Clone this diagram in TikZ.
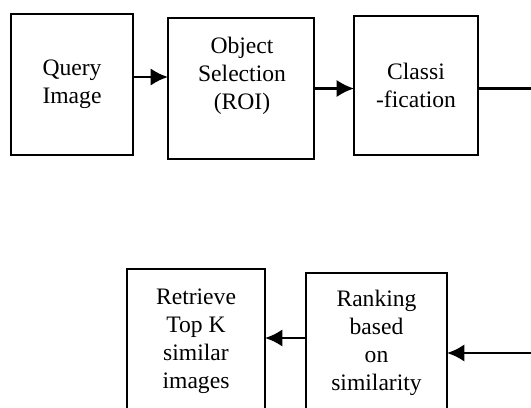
\documentclass[tikz,border=0pt]{standalone}
\usepackage{fontspec}
\setmainfont{Liberation Serif}
\usetikzlibrary{arrows.meta}

\tikzset{
  blk/.style={draw, line width=1.5pt, inner sep=0pt, outer sep=0pt, align=center,
    font=\fontsize{17.7}{21}\selectfont},
  blktxt/.style={inner sep=0pt, align=center, font=\fontsize{17.7}{21}\selectfont},
  arr/.style={line width=2pt, -{Latex[length=13pt,width=13pt]}},
  wire/.style={line width=2pt}
}

\begin{document}
\begin{tikzpicture}[x=0.75pt,y=0.75pt,yscale=-1,xscale=1]
  \useasboundingbox (0,0) rectangle (531,407);
  \clip (0,0) rectangle (531,407);

  %Shape: Rectangle [query]
  \node [blk, minimum width=91.5pt, minimum height=105.75pt] (query) at (72,84.5) {Query\\Image};
  %Shape: Rectangle [roi]
  \node [blk, minimum width=109.5pt, minimum height=105.75pt] (roi) at (241,88.5) {};
  % Text Node
  \node [blktxt] (roitxt) at (242,75.5) {Object\\Selection\\(ROI)};
  %Shape: Rectangle [classify]
  \node [blk, minimum width=93pt, minimum height=104.25pt] (classify) at (416,85.5) {Classi\\-fication};
  %Shape: Rectangle [retrieve]
  \node [blk, minimum width=103.5pt, minimum height=108pt] (retrieve) at (196,341) {Retrieve\\Top K\\similar\\images};
  %Shape: Rectangle [ranking]
  \node [blk, minimum width=105.75pt, minimum height=105pt] (ranking) at (376.5,343) {Ranking\\based\\on\\similarity};

  %Coordinates past the right edge
  \coordinate (outR) at (540,88.5);
  \coordinate (inR) at (540,353);

  %Straight Lines [arrows]
  \draw [arr] (query.east |- 0,77) -- (roi.west |- 0,77);
  \draw [arr] (roi.east) -- (classify.west |- roi.east);
  \draw [wire] (classify.east |- outR) -- (outR);
  \draw [arr] (inR) -- (ranking.east |- inR);
  \draw [arr] (ranking.west |- 0,338) -- (retrieve.east |- 0,338);

\end{tikzpicture}
\end{document}
